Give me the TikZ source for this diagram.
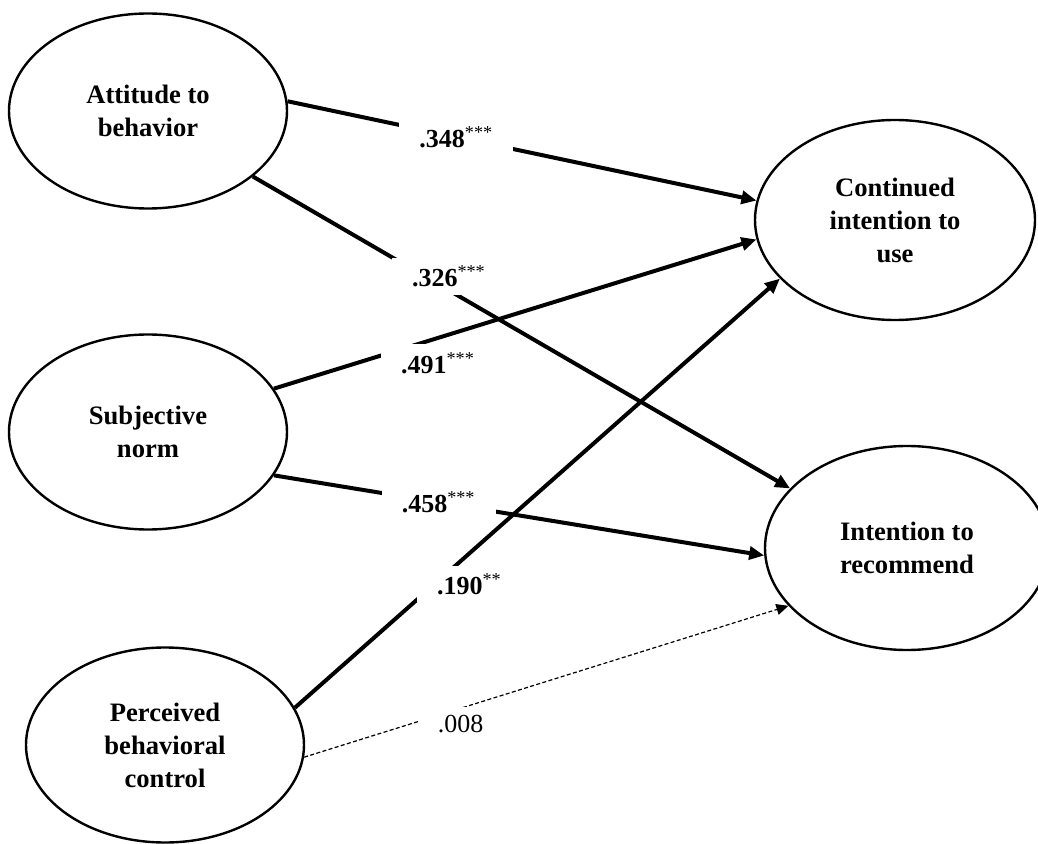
\documentclass[tikz,border=0pt]{standalone}
\usepackage{fontspec}
\setmainfont{Liberation Serif}
\usetikzlibrary{arrows.meta,shapes.geometric}
\tikzset{
  construct/.style={
    ellipse,
    draw=black,
    line width=1.2pt,
    align=center,
    inner sep=0pt,
    minimum width=139pt,
    minimum height=97.5pt,
    font=\fontsize{13.3}{16.5}\selectfont\bfseries
  },
  pathline/.style={-{Triangle[length=7.5pt,width=6.5pt]},line width=2pt},
  weakline/.style={-{Triangle[length=6pt,width=5.5pt]},line width=0.6pt,dash pattern=on 2pt off 1.2pt},
  coef/.style={
    fill=white,
    inner xsep=10pt,
    inner ysep=4pt,
    font=\fontsize{13}{15}\selectfont\bfseries
  },
  coefweak/.style={coef,font=\fontsize{13}{15}\selectfont}
}
\newcommand{\stars}[1]{\textsuperscript{\mdseries #1}}

\begin{document}
\begin{tikzpicture}[x=0.5pt,y=-0.5pt]
  \useasboundingbox (0,0) rectangle (1038,844);
  % predictors
  \node[construct] (att) at (148,111) {Attitude to\\behavior};
  \node[construct] (sub) at (148,432) {Subjective\\norm};
  \node[construct] (pbc) at (165,745) {Perceived\\behavioral\\control};
  % outcomes
  \node[construct, minimum width=140pt, minimum height=100pt] (cont) at (895,220) {Continued\\intention to\\use};
  \node[construct, minimum width=142pt, minimum height=102pt] (rec) at (907,548) {Intention to\\recommend};
  % paths
  \draw[pathline] (att.4.4) -- node[coef, pos=0.36] {.348\stars{***}} (cont.172.8);
  \draw[pathline] (att.-32.7) -- node[coef, pos=0.365, yshift=7pt] {.326\stars{***}} (rec.153.4);
  \draw[pathline] (sub.19.1) -- node[coef, pos=0.34, yshift=-12.5pt] {.491\stars{***}} (cont.-172);
  \draw[pathline] (sub.-19.1) -- node[coef, pos=0.336] {.458\stars{***}} (rec.183.2);
  \draw[pathline] (pbc.16.7) -- node[coef, pos=0.36, yshift=-15.5pt] {.190\stars{**}} (cont.-153.3);
  \draw[weakline] (pbc.-5.4) -- node[coefweak, pos=0.323, yshift=-8pt] {.008} (rec.206.2);
\end{tikzpicture}
\end{document}
